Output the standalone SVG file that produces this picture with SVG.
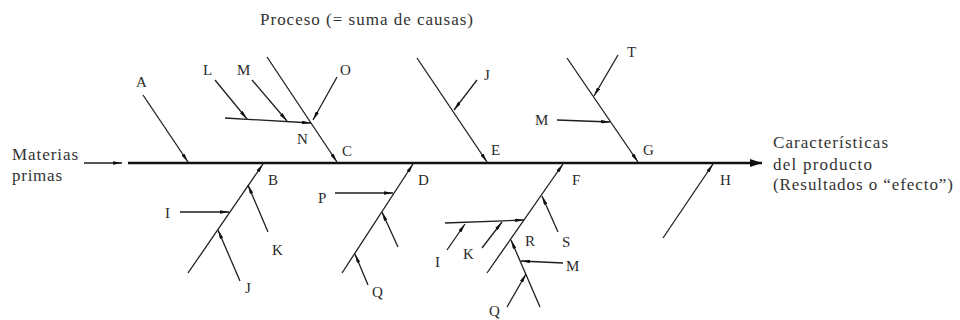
<svg xmlns="http://www.w3.org/2000/svg" width="960" height="320" viewBox="0 0 960 320">
<style>
.ln{stroke:#1e1e1e;stroke-width:1.3;fill:none}
.ar{stroke:#1e1e1e;stroke-width:1.3;fill:none;marker-end:url(#ah)}
.sp{stroke:#111;stroke-width:2.6;fill:none;marker-end:url(#big)}
.lb{font-family:"Liberation Serif","Times New Roman",serif;font-size:15px;fill:#2a2a2a}
.tx{font-family:"Liberation Serif","Times New Roman",serif;font-size:17px;fill:#333}
</style>
<defs>
<marker id="ah" viewBox="0 0 10 4" refX="10" refY="2" markerWidth="9" markerHeight="3.6" markerUnits="userSpaceOnUse" orient="auto">
<path d="M0,0 L10,2 L0,4 Z" fill="#111"/>
</marker>
<marker id="big" viewBox="0 0 12 8" refX="12" refY="4" markerWidth="13" markerHeight="8" markerUnits="userSpaceOnUse" orient="auto">
<path d="M0,0 L12,4 L0,8 Z" fill="#111"/>
</marker>
</defs>
<rect width="960" height="320" fill="#fff"/>
<g id="connectors">
<line class="sp" x1="128" y1="163" x2="762" y2="163"/>
<line class="ar" x1="84" y1="163" x2="122" y2="163"/>
<line class="ar" x1="143" y1="95" x2="188" y2="162"/>
<line class="ar" x1="267" y1="57" x2="337" y2="162"/>
<line class="ar" x1="215" y1="80" x2="247" y2="119"/>
<line class="ar" x1="252" y1="80" x2="287" y2="121"/>
<line class="ar" x1="225" y1="118" x2="311" y2="123"/>
<line class="ar" x1="337" y1="77" x2="313" y2="120"/>
<line class="ar" x1="188" y1="273" x2="263" y2="164"/>
<line class="ar" x1="180" y1="212" x2="229" y2="212"/>
<line class="ar" x1="268" y1="232" x2="248" y2="185"/>
<line class="ar" x1="240" y1="281" x2="218" y2="230"/>
<line class="ar" x1="342" y1="273" x2="413" y2="164"/>
<line class="ar" x1="335" y1="193" x2="393" y2="193"/>
<line class="ar" x1="398" y1="247" x2="382" y2="212"/>
<line class="ar" x1="368" y1="285" x2="355" y2="254"/>
<line class="ar" x1="417" y1="58" x2="487" y2="162"/>
<line class="ar" x1="477" y1="80" x2="454" y2="110"/>
<line class="ar" x1="567" y1="58" x2="638" y2="162"/>
<line class="ar" x1="618" y1="55" x2="594" y2="96"/>
<line class="ar" x1="557" y1="120" x2="610" y2="122"/>
<line class="ar" x1="487" y1="273" x2="563" y2="164"/>
<line class="ar" x1="558" y1="232" x2="542" y2="196"/>
<line class="ar" x1="445" y1="223" x2="524" y2="220"/>
<line class="ar" x1="447" y1="250" x2="465" y2="224"/>
<line class="ar" x1="482" y1="248" x2="502" y2="222"/>
<line class="ar" x1="540" y1="307" x2="511" y2="240"/>
<line class="ar" x1="563" y1="263" x2="521" y2="261"/>
<line class="ar" x1="507" y1="307" x2="526" y2="274"/>
<line class="ar" x1="663" y1="238" x2="713" y2="164"/>
</g>
<g id="title"><text class="tx" x="260" y="25" textLength="213">Proceso (= suma de causas)</text></g>
<g id="input"><text class="tx" x="12" y="160" textLength="66">Materias</text><text class="tx" x="12" y="181" textLength="50">primas</text></g>
<g id="output"><text class="tx" x="773" y="148" textLength="115">Características</text><text class="tx" x="773" y="170" textLength="99">del producto</text><text class="tx" x="773" y="190" textLength="180">(Resultados o “efecto”)</text></g>
<g id="n-A"><text class="lb" x="136" y="87">A</text></g>
<g id="n-L"><text class="lb" x="203" y="75">L</text></g>
<g id="n-M1"><text class="lb" x="237" y="75">M</text></g>
<g id="n-O"><text class="lb" x="340" y="75">O</text></g>
<g id="n-N"><text class="lb" x="297" y="144">N</text></g>
<g id="n-C"><text class="lb" x="342" y="156">C</text></g>
<g id="n-J1"><text class="lb" x="484" y="80">J</text></g>
<g id="n-E"><text class="lb" x="491" y="155">E</text></g>
<g id="n-T"><text class="lb" x="627" y="57">T</text></g>
<g id="n-M2"><text class="lb" x="535" y="125">M</text></g>
<g id="n-G"><text class="lb" x="643" y="155">G</text></g>
<g id="n-B"><text class="lb" x="268" y="185">B</text></g>
<g id="n-I1"><text class="lb" x="165" y="218">I</text></g>
<g id="n-K1"><text class="lb" x="272" y="255">K</text></g>
<g id="n-J2"><text class="lb" x="245" y="293">J</text></g>
<g id="n-D"><text class="lb" x="418" y="185">D</text></g>
<g id="n-P"><text class="lb" x="318" y="203">P</text></g>
<g id="n-Q1"><text class="lb" x="372" y="297">Q</text></g>
<g id="n-F"><text class="lb" x="572" y="185">F</text></g>
<g id="n-S"><text class="lb" x="562" y="247">S</text></g>
<g id="n-I2"><text class="lb" x="435" y="267">I</text></g>
<g id="n-K2"><text class="lb" x="463" y="259">K</text></g>
<g id="n-R"><text class="lb" x="525" y="246">R</text></g>
<g id="n-M3"><text class="lb" x="566" y="271">M</text></g>
<g id="n-Q2"><text class="lb" x="489" y="316">Q</text></g>
<g id="n-H"><text class="lb" x="720" y="185">H</text></g>
</svg>
